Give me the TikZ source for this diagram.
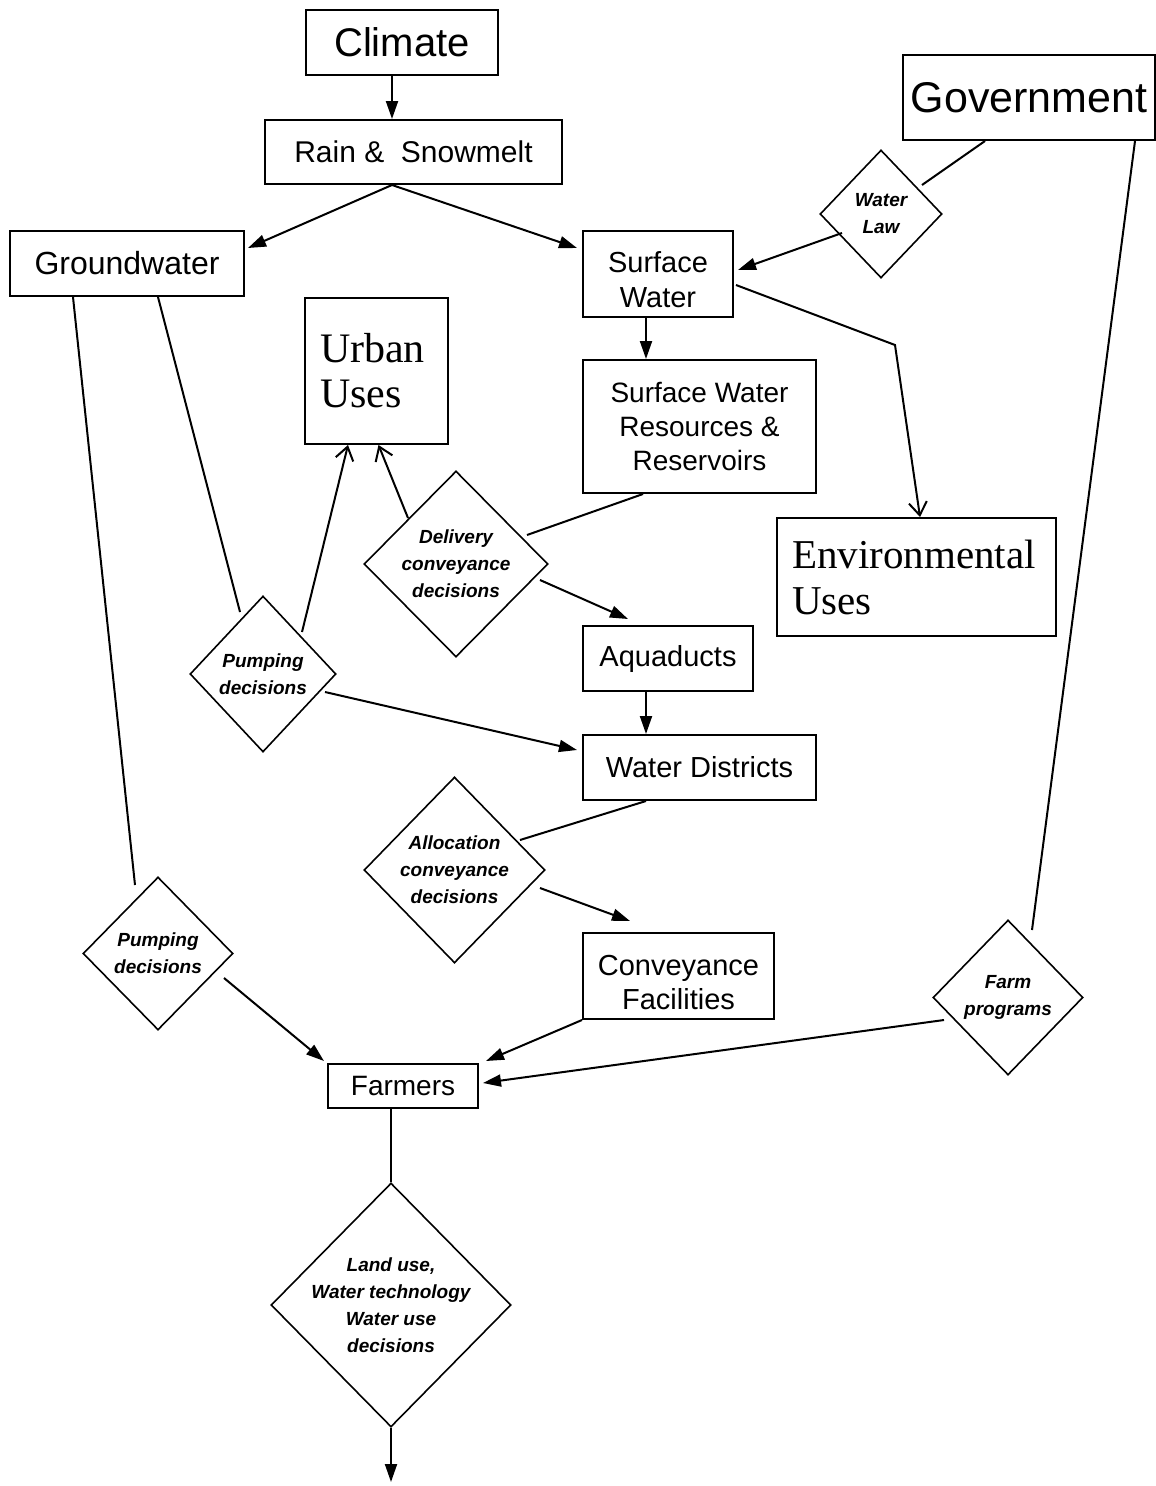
\documentclass[tikz,border=0pt]{standalone}
\usepackage{fontspec}
\setmainfont{Liberation Sans}
\newfontfamily\serifL{Liberation Serif}
\usetikzlibrary{shapes.geometric,arrows.meta,calc}
\begin{document}
\begin{tikzpicture}[x=1pt,y=-1pt,
 box/.style={draw,line width=2pt,inner sep=0pt,align=center},
 dia/.style={diamond,draw,line width=1.6pt,inner sep=-8pt,align=center,font=\bfseries\itshape\fontsize{19}{27}\selectfont},
 con/.style={line width=2pt},
 fa/.style={con,-{Triangle[length=18pt,width=12pt]}},
 oa/.style={con,-{Straight Barb[length=13pt,width=18pt]}}]
\useasboundingbox (0,0) rectangle (1156,1486);
\fill[white] (0,0) rectangle (1156,1486);
% boxes
\node[box,minimum width=192pt,minimum height=65pt,font=\fontsize{40}{48}\selectfont] (climate) at (402,42.5) {Climate};
\node[box,minimum width=297pt,minimum height=64pt,font=\fontsize{30}{36}\selectfont] (rain) at (413.5,152) {Rain \&\ \ Snowmelt};
\node[box,minimum width=252pt,minimum height=85pt,font=\fontsize{43}{50}\selectfont] (gov) at (1029,97.5) {Government};
\node[box,minimum width=234pt,minimum height=65pt,font=\fontsize{32}{38}\selectfont] (gw) at (127,263.5) {Groundwater};
\node[box,minimum width=150pt,minimum height=86pt,font=\fontsize{29}{35}\selectfont] (sw) at (658,274) {\rule{0pt}{33pt}Surface\\Water};
\node[box,minimum width=143pt,minimum height=146pt,inner xsep=15pt,text width=113pt,align=left,font=\serifL\fontsize{42}{45}\selectfont] (urban) at (376.5,371) {Urban\\Uses};
\node[box,minimum width=233pt,minimum height=133pt,font=\fontsize{28}{34}\selectfont] (swr) at (699.5,426.5) {Surface Water\\Resources \&\\Reservoirs};
\node[box,minimum width=279pt,minimum height=118pt,inner xsep=15pt,text width=249pt,align=left,font=\serifL\fontsize{41}{46}\selectfont] (env) at (916.5,577) {Environmental\\Uses};
\node[box,minimum width=170pt,minimum height=65pt,font=\fontsize{29}{35}\selectfont] (aqua) at (668,658.5) {Aquaducts};
\node[box,minimum width=233pt,minimum height=65pt,font=\fontsize{29}{35}\selectfont] (wd) at (699.5,767.5) {Water Districts};
\node[box,minimum width=191pt,minimum height=86pt,font=\fontsize{29}{34}\selectfont] (conv) at (678.5,976) {\rule{0pt}{34pt}Conveyance\\Facilities};
\node[box,minimum width=150pt,minimum height=44pt,font=\fontsize{28}{34}\selectfont] (farm) at (403,1086) {Farmers};
% diamonds
\node[dia,minimum width=122pt,minimum height=128pt] (wl) at (881,214) {Water\\Law};
\node[dia,minimum width=184pt,minimum height=186pt] (del) at (456,564) {Delivery\\conveyance\\decisions};
\node[dia,minimum width=146pt,minimum height=156pt] (pu) at (263,674) {Pumping\\decisions};
\node[dia,minimum width=181pt,minimum height=186pt] (al) at (454.5,870) {Allocation\\conveyance\\decisions};
\node[dia,minimum width=150pt,minimum height=153pt] (pl) at (158,953.5) {Pumping\\decisions};
\node[dia,minimum width=150pt,minimum height=155pt] (fp) at (1008,997.5) {Farm\\programs};
\node[dia,minimum width=240pt,minimum height=244pt] (lu) at (391,1305) {Land use,\\Water technology\\Water use\\decisions};
\coordinate (out) at (391,1486);
% connectors
\draw[fa] ($(climate.south)+(-10,0)$) -- ($(rain.north)+(-21.5,0)$);
\draw[fa] ($(rain.south)+(-21.5,0)$) -- ($(gw.east)+(3,-15.5)$);
\draw[fa] ($(rain.south)+(-21.5,0)$) -- ($(sw.west)+(-5,-26)$);
\draw[con] ($(gov.south)+(-44,0)$) -- ($(wl.center)+(41,-29)$);
\draw[fa] ($(wl.center)+(-39,19)$) -- ($(sw.east)+(4,-4)$);
\draw[con] ($(gov.south)+(106,0)$) -- ($(fp.center)+(24,-67.5)$);
\draw[fa] ($(fp.center)+(-64,22.5)$) -- ($(farm.east)+(4,-3)$);
\draw[fa] ($(sw.south)+(-12,0)$) -- ($(swr.north)+(-53.5,0)$);
\draw[oa] ($(sw.east)+(2,11)$) -- (895,345) -- ($(env.north)+(3.5,0)$);
\draw[con] ($(swr.south)+(-56.5,0)$) -- ($(del.center)+(71,-29)$);
\draw[oa] ($(del.center)+(-48,-46)$) -- ($(urban.south)+(2,0)$);
\draw[oa] ($(pu.center)+(39,-42)$) -- ($(urban.south)+(-28.5,0)$);
\draw[fa] ($(del.center)+(84,16)$) -- ($(aqua.north)+(-40,-6)$);
\draw[con] ($(gw.south)+(31,0)$) -- ($(pu.center)+(-23,-62)$);
\draw[fa] ($(pu.center)+(62,18)$) -- ($(wd.west)+(-5,-17.5)$);
\draw[fa] ($(aqua.south)+(-22,0)$) -- ($(wd.north)+(-53.5,0)$);
\draw[con] ($(wd.south)+(-53.5,0)$) -- ($(al.center)+(65.5,-30)$);
\draw[fa] ($(al.center)+(85.5,18)$) -- ($(conv.north)+(-48.5,-11)$);
\draw[con] ($(gw.south)+(-54,0)$) -- ($(pl.center)+(-23,-68.5)$);
\draw[fa] ($(pl.center)+(66,24.5)$) -- ($(farm.north west)+(-3,-2)$);
\draw[fa] (conv.south west) -- ($(farm.north east)+(7,-2)$);
\draw[con] ($(farm.south)+(-12,0)$) -- (lu.north);
\draw[fa] (lu.south) -- ($(out)+(0,-4)$);
\end{tikzpicture}
\end{document}
